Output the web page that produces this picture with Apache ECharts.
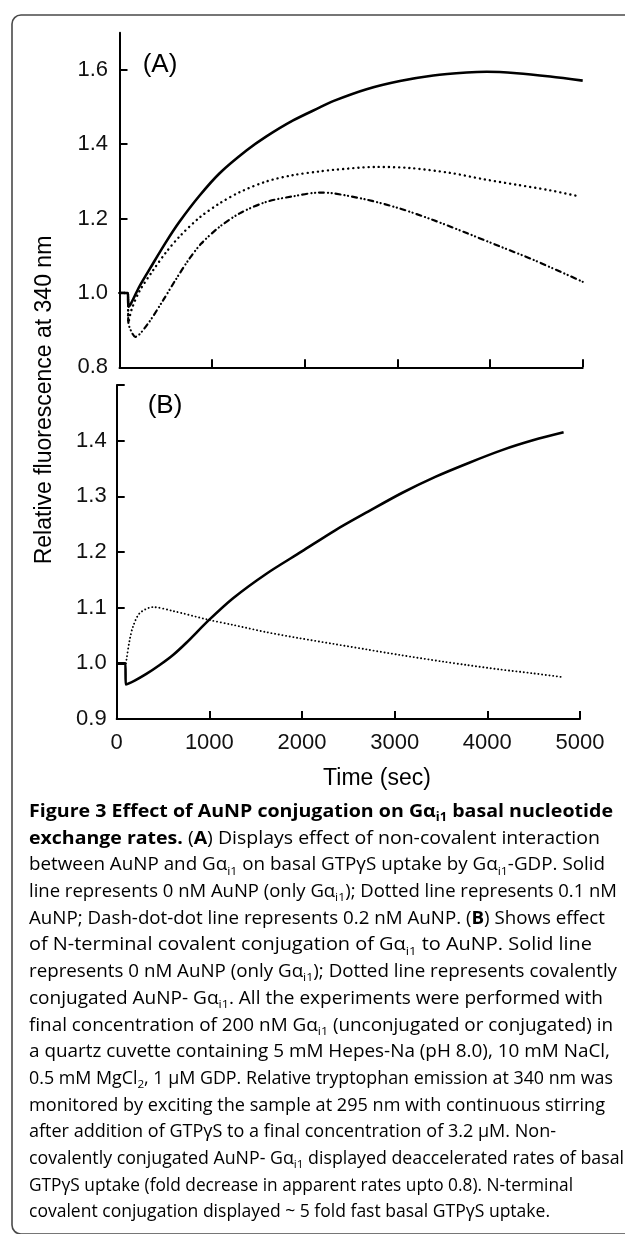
<!DOCTYPE html>
<html><head><meta charset="utf-8">
<script src="https://cdn.jsdelivr.net/npm/echarts@6/dist/echarts.min.js"></script>
<style>html,body{margin:0;padding:0;background:#fff}#c{width:625px;height:1234px}</style>
</head><body><div id="c"></div>
<script>
// ---------- data ----------
const xTickValues = [0, 1000, 2000, 3000, 4000, 5000];
const yTicksA = [0.8, 1.0, 1.2, 1.4, 1.6];
const yTicksB = [0.9, 1.0, 1.1, 1.2, 1.3, 1.4, 1.5];
const yLabelsB = [0.9, 1.0, 1.1, 1.2, 1.3, 1.4];

// Panel A: solid (0 nM AuNP)
const aSolidT = [0, 90, 96, 125, 216, 330, 505, 649, 865, 1081, 1370, 1586, 1874, 2162, 2306, 2667, 3027, 3387, 3748, 3964, 4288, 4649, 5000];
const aSolidV = [1.0, 1.0, 0.963, 0.972, 1.018, 1.066, 1.138, 1.192, 1.262, 1.322, 1.383, 1.421, 1.464, 1.499, 1.516, 1.548, 1.570, 1.585, 1.593, 1.595, 1.591, 1.582, 1.571];
// Panel A: dotted (0.1 nM AuNP)
const aDotT = [0, 90, 96, 130, 216, 360, 505, 649, 865, 1081, 1297, 1586, 1874, 2162, 2306, 2775, 3135, 3568, 3928, 4288, 4649, 4973];
const aDotV = [1.0, 1.0, 0.92, 0.955, 1.005, 1.060, 1.110, 1.152, 1.203, 1.241, 1.271, 1.300, 1.317, 1.327, 1.331, 1.339, 1.336, 1.323, 1.306, 1.291, 1.276, 1.259];
// Panel A: dash-dot-dot (0.2 nM AuNP)
const aDddT = [0, 90, 96, 130, 170, 300, 470, 600, 740, 880, 1081, 1297, 1586, 1874, 2162, 2306, 2667, 3027, 3387, 3748, 4108, 4468, 5000];
const aDddV = [1.0, 1.0, 0.92, 0.895, 0.882, 0.915, 0.980, 1.033, 1.087, 1.132, 1.178, 1.214, 1.245, 1.260, 1.270, 1.268, 1.251, 1.227, 1.196, 1.161, 1.125, 1.089, 1.030];

// Panel B: solid (0 nM AuNP)
const bSolidT = [0, 94, 97, 194, 320, 464, 608, 752, 997, 1256, 1616, 1998, 2358, 2718, 3078, 3438, 3798, 4158, 4500, 4823];
const bSolidV = [1.0, 1.0, 0.962, 0.969, 0.981, 0.997, 1.015, 1.037, 1.078, 1.117, 1.161, 1.201, 1.239, 1.273, 1.306, 1.335, 1.360, 1.383, 1.401, 1.415];
// Panel B: dotted (covalently conjugated AuNP-Gαi1)
const bDotT = [100, 105, 140, 176, 248, 392, 608, 997, 1256, 1616, 1976, 2336, 2696, 3056, 3524, 3776, 4136, 4496, 4820];
const bDotV = [1.0, 1.006, 1.042, 1.066, 1.090, 1.101, 1.094, 1.078, 1.069, 1.056, 1.045, 1.035, 1.025, 1.015, 1.003, 0.997, 0.989, 0.982, 0.975];

// ---------- text ----------
const yTitle = 'Relative fluorescence at 340 nm';
const xTitle = 'Time (sec)';
const panelLabels = ['(A)', '(B)'];
const captionLines = [
  '{b|Figure 3 Effect of AuNP conjugation on Gα}{bs|i1}{b| basal nucleotide}',
  '{b|exchange rates.}{n| (}{b|A}{n|) Displays effect of non-covalent interaction}',
  '{n|between AuNP and Gα}{s|i1}{n| on basal GTPγS uptake by Gα}{s|i1}{n|-GDP. Solid}',
  '{n|line represents 0 nM AuNP (only Gα}{s|i1}{n|); Dotted line represents 0.1 nM}',
  '{n|AuNP; Dash-dot-dot line represents 0.2 nM AuNP. (}{b|B}{n|) Shows effect}',
  '{n|of N-terminal covalent conjugation of Gα}{s|i1}{n| to AuNP. Solid line}',
  '{n|represents 0 nM AuNP (only Gα}{s|i1}{n|); Dotted line represents covalently}',
  '{n|conjugated AuNP- Gα}{s|i1}{n|. All the experiments were performed with}',
  '{n|final concentration of 200 nM Gα}{s|i1}{n| (unconjugated or conjugated) in}',
  '{n|a quartz cuvette containing 5 mM Hepes-Na (pH 8.0), 10 mM NaCl,}',
  '{n|0.5 mM MgCl}{s|2}{n|, 1 μM GDP. Relative tryptophan emission at 340 nm was}',
  '{n|monitored by exciting the sample at 295 nm with continuous stirring}',
  '{n|after addition of GTPγS to a final concentration of 3.2 μM. Non-}',
  '{n|covalently conjugated AuNP- Gα}{s|i1}{n| displayed deaccelerated rates of basal}',
  '{n|GTPγS uptake (fold decrease in apparent rates upto 0.8). N-terminal}',
  '{n|covalent conjugation displayed ~ 5 fold fast basal GTPγS uptake.}'
];
const captionRightEdges = [613, 600, 605, 617, 605, 592, 617, 603, 613, 610, 613, 605, 556, 624, 573, 550];

// ---------- layout / style ----------
const AX_FONT = 'Liberation Sans';
const CAP_FONT = 'Open Sans';
const capLeft = 29, capTop = 812, capStep = 26.7, capFs = 17.5, subRatio = 0.66;

function zip(t, v) { return t.map((x, i) => [x, v[i]]); }

// measure caption lines to fit each line's width to the reference
const cv = document.createElement('canvas').getContext('2d');
function lineWidth(str, fs) {
  let w = 0; const re = /\{(\w+)\|([^}]*)\}/g; let m;
  while ((m = re.exec(str))) {
    const st = m[1];
    const bold = (st === 'b' || st === 'bs');
    const size = (st === 's' || st === 'bs') ? fs * subRatio : fs;
    cv.font = (bold ? 'bold ' : '') + size + 'px "' + CAP_FONT + '"';
    w += cv.measureText(m[2]).width;
  }
  return w;
}

const capColor = '#111';
const capRich = {
  n: { fontFamily: CAP_FONT, fontSize: capFs, lineHeight: 24, color: capColor },
  b: { fontFamily: CAP_FONT, fontSize: capFs, lineHeight: 24, fontWeight: 'bold', color: capColor },
  s: { fontFamily: CAP_FONT, fontSize: capFs * subRatio, lineHeight: 14, verticalAlign: 'bottom', color: capColor },
  bs: { fontFamily: CAP_FONT, fontSize: capFs * subRatio, lineHeight: 14, verticalAlign: 'bottom', fontWeight: 'bold', color: capColor }
};

const axisCommon = {
  axisLine: { show: true, lineStyle: { color: '#000', width: 2 } },
  splitLine: { show: false },
};
const tickStyle = { show: true, inside: true, length: 8, lineStyle: { color: '#000', width: 2 } };
const labelStyle = { fontFamily: AX_FONT, fontSize: 22, color: '#111' };

const lineBase = { type: 'line', showSymbol: false, smooth: 0.3, animation: false, silent: true };

const graphics = [
  { type: 'rect', shape: { x: 12, y: 15, width: 640, height: 1219, r: 9 }, style: { fill: 'none', stroke: '#4a4a4a', lineWidth: 1.6 } },
  { type: 'text', x: 160, y: 65, style: { text: panelLabels[0], font: '26px "' + AX_FONT + '"', fill: '#000', align: 'center', verticalAlign: 'middle' } },
  { type: 'text', x: 165, y: 406, style: { text: panelLabels[1], font: '26px "' + AX_FONT + '"', fill: '#000', align: 'center', verticalAlign: 'middle' } },
  { type: 'text', x: 45, y: 400, rotation: Math.PI / 2, style: { text: yTitle, font: '23px "' + AX_FONT + '"', fill: '#000', align: 'center', verticalAlign: 'middle' } },
  { type: 'text', x: 377, y: 779, style: { text: xTitle, font: '23px "' + AX_FONT + '"', fill: '#000', align: 'center', verticalAlign: 'middle' } }
];
captionLines.forEach((l, i) => {
  const w = lineWidth(l, capFs);
  const sx = (captionRightEdges[i] - capLeft) / w;
  graphics.push({ type: 'text', x: capLeft, y: capTop + i * capStep, scaleX: sx,
    style: { text: l, rich: capRich, align: 'left', verticalAlign: 'middle' } });
});

const option = {
  backgroundColor: '#fff',
  animation: false,
  grid: [
    { left: 119.5, top: 32.7, width: 463.2, height: 334.6 },
    { left: 116.7, top: 385, width: 463.3, height: 334 }
  ],
  xAxis: [
    Object.assign({ gridIndex: 0, type: 'value', min: 0, max: 5000, interval: 1000,
      axisTick: tickStyle, axisLabel: { show: false } }, axisCommon),
    Object.assign({ gridIndex: 1, type: 'value', min: 0, max: 5000, interval: 1000,
      axisTick: tickStyle,
      axisLabel: Object.assign({ margin: 13, customValues: xTickValues, formatter: v => String(v) }, labelStyle) }, axisCommon)
  ],
  yAxis: [
    Object.assign({ gridIndex: 0, type: 'value', min: 0.8, max: 1.7,
      axisTick: Object.assign({ customValues: yTicksA }, tickStyle),
      axisLabel: Object.assign({ margin: 11.5, customValues: yTicksA, formatter: v => v.toFixed(1) }, labelStyle) }, axisCommon),
    Object.assign({ gridIndex: 1, type: 'value', min: 0.9, max: 1.5,
      axisTick: Object.assign({ customValues: yTicksB }, tickStyle),
      axisLabel: Object.assign({ margin: 10, customValues: yLabelsB, formatter: v => v.toFixed(1) }, labelStyle) }, axisCommon)
  ],
  series: [
    Object.assign({ name: '0 nM AuNP', xAxisIndex: 0, yAxisIndex: 0, data: zip(aSolidT, aSolidV),
      lineStyle: { color: '#000', width: 2.6 } }, lineBase),
    Object.assign({ name: '0.1 nM AuNP', xAxisIndex: 0, yAxisIndex: 0, data: zip(aDotT, aDotV),
      lineStyle: { color: '#000', width: 2.4, type: [0.1, 5], cap: 'round' } }, lineBase),
    Object.assign({ name: '0.2 nM AuNP', xAxisIndex: 0, yAxisIndex: 0, data: zip(aDddT, aDddV),
      lineStyle: { color: '#000', width: 2.2, type: [5, 4, 0.1, 3.5, 0.1, 4], cap: 'round' } }, lineBase),
    Object.assign({ name: '0 nM AuNP (B)', xAxisIndex: 1, yAxisIndex: 1, data: zip(bSolidT, bSolidV),
      lineStyle: { color: '#000', width: 2.6 } }, lineBase),
    Object.assign({ name: 'AuNP-Gαi1', xAxisIndex: 1, yAxisIndex: 1, data: zip(bDotT, bDotV),
      lineStyle: { color: '#000', width: 1.9, type: [0.1, 3.6], cap: 'round' } }, lineBase)
  ],
  graphic: graphics
};

const chart = echarts.init(document.getElementById('c'), null, { renderer: 'canvas' });
chart.setOption(option);
</script>
</body></html>
